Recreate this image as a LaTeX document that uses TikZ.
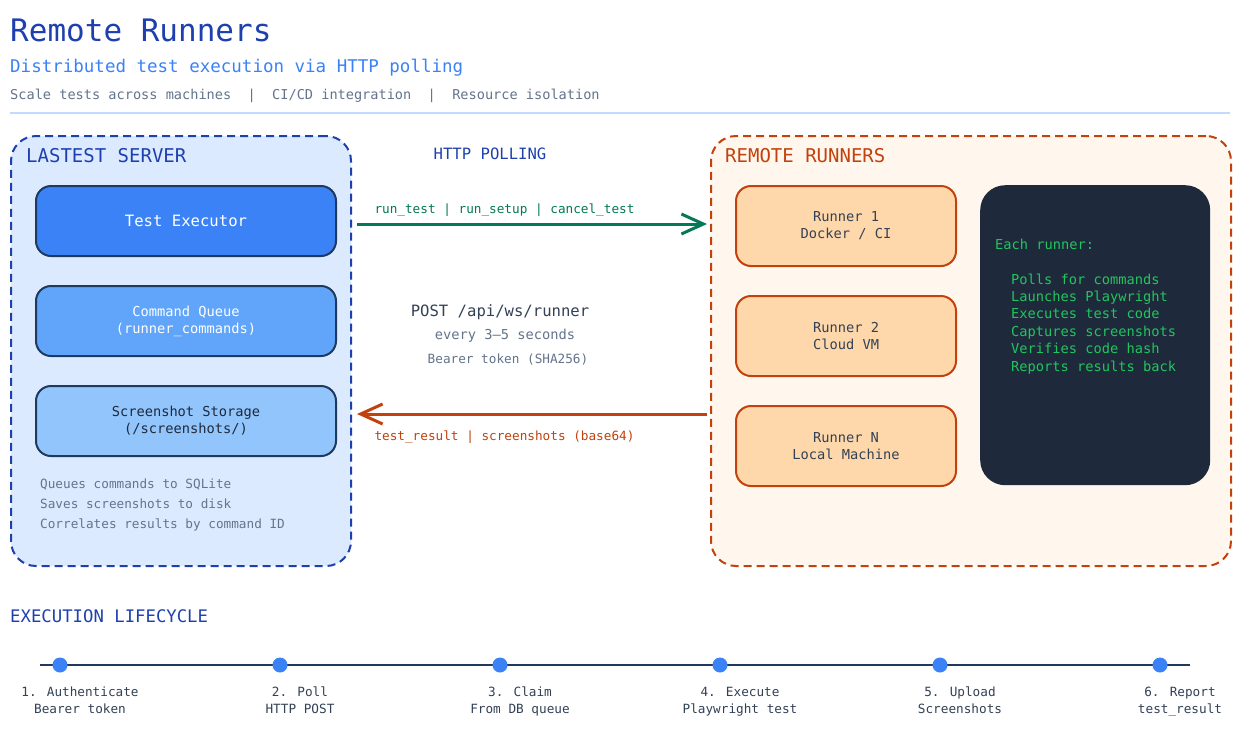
\documentclass[tikz,border=0pt]{standalone}
\usepackage{fontspec}
\setmainfont{DejaVu Sans Mono}
\setmonofont{DejaVu Sans Mono}
\usetikzlibrary{arrows.meta}
\newcommand\fz[2]{\fontsize{#1pt}{#2pt}\selectfont}
\definecolor{titleblue}{HTML}{1E40AF}
\definecolor{subblue}{HTML}{3B82F6}
\definecolor{grayt}{HTML}{64748B}
\definecolor{sepline}{HTML}{BFDBFE}
\definecolor{srvfill}{HTML}{DBEAFE}
\definecolor{navy}{HTML}{1E3A5F}
\definecolor{execfill}{HTML}{3B82F6}
\definecolor{queuefill}{HTML}{60A5FA}
\definecolor{storefill}{HTML}{93C5FD}
\definecolor{darkt}{HTML}{1E293B}
\definecolor{runfill}{HTML}{FFF7ED}
\definecolor{orng}{HTML}{C2410C}
\definecolor{peach}{HTML}{FED7AA}
\definecolor{slate}{HTML}{334155}
\definecolor{termbg}{HTML}{1E293B}
\definecolor{termgreen}{HTML}{22C55E}
\definecolor{arrgreen}{HTML}{047857}
\tikzset{
  cont/.style={rounded corners=25pt, line width=2pt, dash pattern=on 8pt off 5pt, anchor=north west, inner sep=0pt},
  sbox/.style={rounded corners=15pt, line width=2pt, draw=navy, anchor=north west, minimum width=300pt, minimum height=70pt, inner sep=0pt, align=center},
  rbox/.style={rounded corners=15pt, line width=2pt, draw=orng, fill=peach, text=slate, anchor=north west, minimum width=220pt, minimum height=80pt, inner sep=0pt, align=center, font=\fz{13.7}{17}},
  txt/.style={inner sep=0pt, anchor=base west},
  ctxt/.style={inner sep=0pt, anchor=base},
  arr/.style={line width=3pt, -{Straight Barb[length=22pt,width=20pt]}},
  dot/.style={circle, fill=subblue, minimum size=15pt, inner sep=0pt},
  lbl/.style={inner sep=0pt, anchor=base, text=slate, font=\fz{12.7}{16}},
  term/.style={inner sep=0pt, anchor=base west, text=termgreen, font=\fz{13.7}{17}},
}
\begin{document}
\begin{tikzpicture}[x=1pt,y=-1pt]
\useasboundingbox (0,0) rectangle (1250,729);
\fill[white] (0,0) rectangle (1250,729);

% header
\node[txt, text=titleblue, font=\fz{31}{37}] (title) at (10,41) {Remote Runners};
\node[txt, text=subblue, font=\fz{17.5}{21}] (subtitle) at (10,72) {Distributed test execution via HTTP polling};
\node[txt, text=grayt, font=\fz{13.6}{17}] (tagline) at (10,99) {Scale tests across machines\ \ |\ \ CI/CD integration\ \ |\ \ Resource isolation};
\coordinate (sepL) at (10,113);
\coordinate (sepR) at (1230,113);
\draw[sepline, line width=2pt] (sepL) -- (sepR);

% server container
\node[cont, fill=srvfill, draw=titleblue, minimum width=340pt, minimum height=430pt] (server) at (10,135) {};
\node[txt, text=titleblue, font=\fz{19}{23}] (srvtitle) at (26,162) {LASTEST SERVER};
\node[sbox, fill=execfill, text=white, font=\fz{15.6}{19}] (exec) at (35,185) {Test Executor};
\node[sbox, fill=queuefill, text=white, font=\fz{13.7}{17}] (queue) at (35,285) {Command Queue\\(runner\_commands)};
\node[sbox, fill=storefill, text=darkt, font=\fz{13.7}{17}] (store) at (35,385) {Screenshot Storage\\(/screenshots/)};
\node[txt, text=grayt, font=\fz{12.7}{16}] (n1) at (40,488) {Queues commands to SQLite};
\node[txt, text=grayt, font=\fz{12.7}{16}] (n2) at (40,508) {Saves screenshots to disk};
\node[txt, text=grayt, font=\fz{12.7}{16}] (n3) at (40,528) {Correlates results by command ID};

% runners container
\node[cont, fill=runfill, draw=orng, minimum width=520pt, minimum height=430pt] (runners) at (710,135) {};
\node[txt, text=orng, font=\fz{19}{23}] (runtitle) at (725,162) {REMOTE RUNNERS};
\node[rbox] (r1) at (735,185) {Runner 1\\Docker / CI};
\node[rbox] (r2) at (735,295) {Runner 2\\Cloud VM};
\node[rbox] (rn) at (735,405) {Runner N\\Local Machine};
\node[fill=termbg, rounded corners=25pt, anchor=north west, minimum width=230pt, minimum height=300pt, inner sep=0pt] (termbox) at (980,185) {};
\node[term] (t0) at (995,249) {Each runner:};
\node[term] (t1) at (1011,284) {Polls for commands};
\node[term] (t2) at (1011,301.4) {Launches Playwright};
\node[term] (t3) at (1011,318.8) {Executes test code};
\node[term] (t4) at (1011,336.2) {Captures screenshots};
\node[term] (t5) at (1011,353.6) {Verifies code hash};
\node[term] (t6) at (1011,371) {Reports results back};

% middle
\node[ctxt, text=titleblue, font=\fz{15.6}{19}] (poll) at (490,159) {HTTP POLLING};
\coordinate (ya) at (0,224);
\coordinate (yb) at (0,414);
\draw[arr, arrgreen] ([xshift=5pt]server.east |- ya) -- ([xshift=-3pt]runners.west |- ya);
\node[ctxt, text=arrgreen, font=\fz{12.7}{16}] (glabel) at (504.5,213) {run\_test | run\_setup | cancel\_test};
\draw[arr, orng] ([xshift=-3pt]runners.west |- yb) -- ([xshift=5pt]server.east |- yb);
\node[ctxt, text=orng, font=\fz{12.7}{16}] (olabel) at (504.5,440) {test\_result | screenshots (base64)};
\node[ctxt, text=slate, font=\fz{15.6}{19}] (post) at (500,316) {POST /api/ws/runner};
\node[ctxt, text=grayt, font=\fz{13.7}{17}] (every) at (505,339) {every 3--5 seconds};
\node[ctxt, text=grayt, font=\fz{12.7}{16}] (bearer) at (508,363) {Bearer token (SHA256)};

% lifecycle
\node[txt, text=titleblue, font=\fz{17.3}{21}] (lctitle) at (10,622) {EXECUTION LIFECYCLE};
\coordinate (tlA) at (40,665);
\coordinate (tlB) at (1190,665);
\draw[navy, line width=2pt] (tlA) -- (tlB);
\foreach \i/\x/\a/\b in {1/60/1. Authenticate/Bearer token, 2/280/2. Poll/HTTP POST, 3/500/3. Claim/From DB queue, 4/720/4. Execute/Playwright test, 5/940/5. Upload/Screenshots, 6/1160/6. Report/test\_result}{
  \node[dot] (d\i) at (\x,665) {};
  \node[lbl] (la\i) at (\x+20,696) {\a};
  \node[lbl] (lb\i) at (\x+20,713) {\b};
}
\end{tikzpicture}
\end{document}
